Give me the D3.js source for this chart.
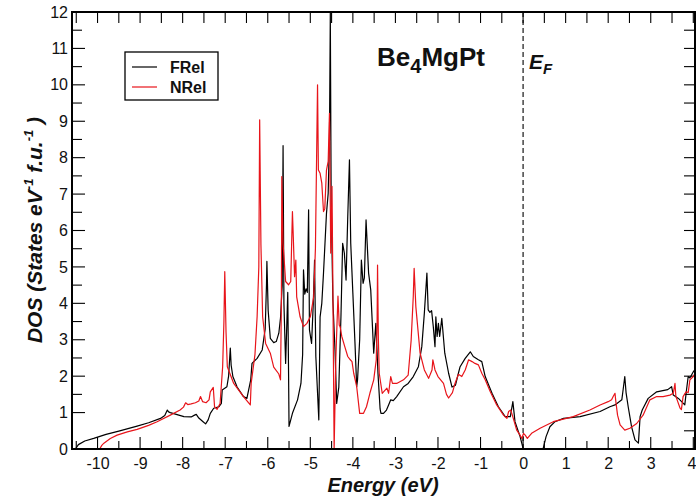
<!DOCTYPE html>
<html>
<head>
<meta charset="utf-8">
<script src="https://cdn.jsdelivr.net/npm/d3@7"></script>
<style>
  html, body { margin: 0; padding: 0; background: #fff; }
  svg { display: block; font-family: "Liberation Sans", Arial, sans-serif; }
</style>
</head>
<body>
<svg id="chart" width="696" height="500"></svg>
<script>
// Total density of states of Be4MgPt: fully relativistic (FRel) vs non-relativistic (NRel)
const frelE = [-10.52,-10.45,-10.3,-10.09,-9.8,-9.5,-9.07,-8.8,-8.52,-8.42,-8.36,-8.33,-8.29,-8.15,-7.97,-7.8,-7.72,-7.68,-7.62,-7.52,-7.46,-7.4,-7.35,-7.27,-7.15,-7.09,-7.07,-6.96,-6.92,-6.88,-6.86,-6.82,-6.72,-6.57,-6.49,-6.4,-6.37,-6.25,-6.13,-6.06,-6.03,-6.02,-5.99,-5.94,-5.86,-5.8,-5.74,-5.7,-5.66,-5.64,-5.62,-5.58,-5.55,-5.53,-5.51,-5.5,-5.42,-5.3,-5.22,-5.18,-5.16,-5.13,-5.1,-5.07,-5.04,-5.02,-4.97,-4.93,-4.9,-4.87,-4.8,-4.77,-4.73,-4.69,-4.62,-4.58,-4.55,-4.53,-4.51,-4.47,-4.42,-4.38,-4.33,-4.28,-4.24,-4.2,-4.16,-4.12,-4.08,-4.05,-4.0,-3.95,-3.91,-3.89,-3.84,-3.8,-3.76,-3.73,-3.69,-3.63,-3.58,-3.51,-3.46,-3.41,-3.36,-3.34,-3.28,-3.21,-3.16,-3.11,-3.05,-2.97,-2.81,-2.7,-2.58,-2.46,-2.38,-2.32,-2.26,-2.23,-2.19,-2.15,-2.11,-2.07,-2.05,-2.02,-1.99,-1.96,-1.91,-1.84,-1.75,-1.67,-1.59,-1.52,-1.48,-1.36,-1.24,-1.17,-1.05,-0.97,-0.89,-0.73,-0.58,-0.42,-0.3,-0.24,-0.19,-0.07,0.0,0.05,0.47,0.5,0.54,0.63,0.75,0.95,1.34,1.81,2.04,2.16,2.32,2.35,2.39,2.42,2.47,2.55,2.63,2.71,2.75,2.8,2.94,3.14,3.4,3.49,3.53,3.65,3.8,3.84,3.88,3.92,4.0,4.05];
const frelDos = [0,0.12,0.22,0.29,0.4,0.49,0.63,0.72,0.84,0.92,1.07,1.02,1.0,0.95,0.89,0.88,0.93,0.95,0.85,0.75,0.69,0.8,0.98,1.12,1.16,1.25,1.62,1.71,2.0,2.77,2.3,1.99,1.7,1.44,1.39,1.9,2.35,2.49,2.72,3.3,4.5,5.15,3.8,3.04,2.92,2.95,3.18,3.6,4.5,8.33,4.0,2.35,3.5,4.3,2.0,0.62,0.98,1.35,1.8,2.6,4.92,4.25,4.4,4.3,6.57,3.27,2.9,4.0,5.19,2.54,0.8,3.63,4.0,4.83,6.47,7.02,8.5,11.97,6.84,4.09,2.72,1.25,1.7,3.63,5.65,5.38,4.64,6.38,7.94,5.65,4.28,2.9,1.71,1.9,3.0,5.19,4.55,4.7,6.29,4.83,4.37,2.63,3.45,2.08,1.1,0.98,0.98,1.07,1.21,1.35,1.33,1.44,1.71,1.8,1.99,2.26,2.81,3.73,4.83,3.82,3.75,3.8,3.36,2.81,3.63,3.09,3.45,3.09,3.59,2.63,2.08,1.7,1.75,2.08,2.26,2.49,2.67,2.54,2.45,2.4,1.99,1.53,1.16,0.89,0.89,1.3,0.75,0.34,0.02,0,0,0.15,0.34,0.61,0.75,0.84,0.89,1.03,1.16,1.21,1.35,1.62,1.99,1.55,1.16,0.61,0.25,0.16,0.89,1.07,1.39,1.57,1.63,1.71,1.48,1.39,1.21,1.62,1.99,1.95,2.12,2.2];

const nrelE = [-9.95,-9.9,-9.85,-9.7,-9.54,-9.3,-9.07,-8.8,-8.6,-8.29,-8.06,-7.98,-7.93,-7.88,-7.8,-7.7,-7.62,-7.58,-7.53,-7.45,-7.38,-7.35,-7.28,-7.25,-7.19,-7.12,-7.06,-7.03,-7.01,-6.98,-6.95,-6.8,-6.57,-6.41,-6.39,-6.3,-6.25,-6.21,-6.19,-6.16,-6.12,-6.05,-5.94,-5.86,-5.74,-5.7,-5.68,-5.67,-5.64,-5.58,-5.51,-5.46,-5.42,-5.4,-5.37,-5.34,-5.32,-5.24,-5.16,-5.08,-5.0,-4.92,-4.88,-4.83,-4.81,-4.77,-4.73,-4.69,-4.66,-4.62,-4.58,-4.55,-4.52,-4.49,-4.47,-4.44,-4.4,-4.35,-4.32,-4.3,-4.26,-4.19,-4.12,-4.06,-4.02,-3.98,-3.91,-3.84,-3.75,-3.68,-3.6,-3.51,-3.45,-3.43,-3.42,-3.4,-3.38,-3.31,-3.2,-3.16,-3.11,-3.07,-2.97,-2.81,-2.7,-2.63,-2.58,-2.56,-2.52,-2.42,-2.32,-2.22,-2.14,-2.12,-2.07,-2.0,-1.87,-1.8,-1.75,-1.66,-1.6,-1.52,-1.44,-1.36,-1.28,-1.2,-1.13,-1.05,-0.97,-0.89,-0.77,-0.62,-0.46,-0.38,-0.34,-0.29,-0.23,-0.15,-0.07,-0.03,0.01,0.05,0.1,0.2,0.4,0.71,1.18,1.57,1.81,2.0,2.08,2.12,2.16,2.18,2.22,2.28,2.39,2.51,2.67,2.82,2.98,3.14,3.29,3.45,3.53,3.57,3.59,3.62,3.69,3.72,3.76,3.83,3.88,3.92,4.0,4.05];
const nrelDos = [0,0.1,0.16,0.29,0.38,0.47,0.54,0.65,0.75,0.93,1.07,1.15,1.27,1.22,1.24,1.27,1.32,1.44,1.3,1.27,1.35,1.57,1.69,1.16,1.09,1.25,2.26,3.5,4.87,3.2,2.26,1.8,1.44,1.21,1.8,2.6,3.63,5.0,9.04,5.6,3.63,2.9,2.63,2.25,2.06,1.9,4.0,7.48,5.65,4.6,4.51,4.6,6.52,5.83,4.73,5.19,4.18,3.63,3.36,3.45,3.63,4.18,5.5,10.0,7.66,7.57,7.3,6.52,6.6,7.66,7.9,9.22,5.38,7.21,4.5,0,2.5,4.2,3.4,3.36,3.09,2.81,2.54,2.45,2.4,2.08,1.71,0.98,0.98,1.16,1.53,1.9,2.45,3.5,5.05,3.0,2.08,1.53,1.67,1.53,1.99,1.8,1.8,1.9,2.03,2.99,4.2,4.96,3.91,2.63,2.17,1.94,2.17,2.45,2.17,1.99,1.8,1.5,1.4,1.55,1.8,2.05,1.99,2.17,2.45,2.4,2.35,2.31,2.08,1.9,1.57,1.21,0.93,0.84,1.03,1.07,0.84,0.52,0.38,0.29,0.43,0.38,0.29,0.43,0.57,0.75,0.89,1.07,1.21,1.3,1.35,1.45,1.53,1.3,0.93,0.66,0.52,0.57,0.7,0.93,1.35,1.44,1.44,1.48,1.53,1.8,1.45,1.35,1.12,1.08,1.44,1.57,1.55,1.9,1.99,2.1];

const xTicks = [-10,-9,-8,-7,-6,-5,-4,-3,-2,-1,0,1,2,3,4];
const yTicks = [0,1,2,3,4,5,6,7,8,9,10,11,12];
const seriesNames = ["FRel", "NRel"];
const seriesColors = ["#000000", "#e8141a"];

const svg = d3.select("#chart");
const mLeft = 72, mRight = 695, mTop = 12, mBottom = 449;

const x = d3.scaleLinear().domain([-10.6, 4.04]).range([mLeft, mRight]);
const y = d3.scaleLinear().domain([0, 12]).range([mBottom, mTop]);

svg.append("defs").append("clipPath").attr("id", "plotclip")
  .append("rect").attr("x", mLeft).attr("y", mTop - 1).attr("width", mRight - mLeft).attr("height", mBottom - mTop + 1);

// ticks at every half unit, pointing inward on all four sides
const xHalf = d3.range(-10.5, 4.01, 0.5);
const fmt = d => String(d);

// bottom axis labels
const gx = svg.append("g").attr("transform", `translate(0,${mBottom})`)
  .call(d3.axisBottom(x).tickValues(xTicks).tickFormat(fmt).tickSize(0).tickPadding(9));
gx.select(".domain").remove();
gx.selectAll("text").attr("font-size", 16).attr("fill", "#111").attr("font-family", "Liberation Sans, Arial, sans-serif");
// the last label sits against the right edge of the page
gx.selectAll(".tick").filter(d => d === 4).select("text").attr("text-anchor", "end").attr("x", 696 - x(4));

svg.append("g").selectAll("line").data(xHalf).join("line")
  .attr("x1", d => x(d)).attr("x2", d => x(d))
  .attr("y1", mBottom).attr("y2", d => mBottom - (Number.isInteger(d) ? 12 : 8))
  .attr("stroke", "#000").attr("stroke-width", 1.1);
svg.append("g").selectAll("line").data(xHalf).join("line")
  .attr("x1", d => x(d)).attr("x2", d => x(d))
  .attr("y1", mTop).attr("y2", mTop + 11)
  .attr("stroke", "#000").attr("stroke-width", 1.1);

// left axis labels
const gy = svg.append("g").attr("transform", `translate(${mLeft},0)`)
  .call(d3.axisLeft(y).tickValues(yTicks).tickFormat(fmt).tickSize(0).tickPadding(4));
gy.select(".domain").remove();
gy.selectAll("text").attr("font-size", 16).attr("fill", "#111").attr("font-family", "Liberation Sans, Arial, sans-serif");

svg.append("g").selectAll("line").data(d3.range(1, 12, 0.5)).join("line")
  .attr("y1", d => y(d)).attr("y2", d => y(d))
  .attr("x1", mLeft).attr("x2", d => mLeft + (Number.isInteger(d) ? 13 : 10))
  .attr("stroke", "#000").attr("stroke-width", 1.1);
svg.append("g").selectAll("line").data(d3.range(0.5, 12, 0.5)).join("line")
  .attr("y1", d => y(d)).attr("y2", d => y(d))
  .attr("x1", mRight).attr("x2", mRight - 11)
  .attr("stroke", "#000").attr("stroke-width", 1.1);

// Fermi level
svg.append("line")
  .attr("x1", x(0)).attr("x2", x(0)).attr("y1", mTop).attr("y2", mBottom)
  .attr("stroke", "#000").attr("stroke-width", 1.1).attr("stroke-dasharray", "5,3");

// DOS curves
const line = d3.line().x(d => x(d[0])).y(d => y(d[1]));
const frel = frelE.map((e, i) => [e, frelDos[i]]);
const nrel = nrelE.map((e, i) => [e, nrelDos[i]]);
const plot = svg.append("g").attr("clip-path", "url(#plotclip)");
plot.append("path").datum(frel).attr("d", line)
  .attr("fill", "none").attr("stroke", seriesColors[0]).attr("stroke-width", 1.2).attr("stroke-linejoin", "round");
plot.append("path").datum(nrel).attr("d", line)
  .attr("fill", "none").attr("stroke", seriesColors[1]).attr("stroke-width", 1.2).attr("stroke-linejoin", "round");

// frame
svg.append("rect").attr("x", mLeft).attr("y", mTop).attr("width", mRight - mLeft).attr("height", mBottom - mTop)
  .attr("fill", "none").attr("stroke", "#000").attr("stroke-width", 2);

// legend
const lg = svg.append("g");
lg.append("rect").attr("x", 125).attr("y", 52).attr("width", 93).attr("height", 48)
  .attr("fill", "#fff").attr("stroke", "#000").attr("stroke-width", 1.3);
seriesNames.forEach((name, i) => {
  const yy = 67 + i * 20;
  lg.append("line").attr("x1", 132).attr("x2", 157).attr("y1", yy).attr("y2", yy)
    .attr("stroke", seriesColors[i]).attr("stroke-width", 1.2);
  lg.append("text").attr("x", 170).attr("y", yy + 6).attr("font-size", 16).attr("font-weight", "bold")
    .attr("fill", "#111").text(name);
});

// compound label
const title = svg.append("text").attr("x", 377).attr("y", 66).attr("font-size", 26).attr("font-weight", "bold").attr("fill", "#111");
title.append("tspan").text("Be");
title.append("tspan").attr("font-size", 20).attr("dy", 7).text("4");
title.append("tspan").attr("dy", -7).text("MgPt");

// Fermi level label
const ef = svg.append("text").attr("x", 529).attr("y", 69).attr("font-size", 21).attr("font-weight", "bold")
  .attr("font-style", "italic").attr("fill", "#111");
ef.append("tspan").text("E");
ef.append("tspan").attr("font-size", 15).attr("dy", 5).text("F");

// axis titles
svg.append("text").attr("x", 383).attr("y", 492).attr("text-anchor", "middle")
  .attr("font-size", 20).attr("font-weight", "bold").attr("font-style", "italic").attr("fill", "#111")
  .text("Energy (eV)");

const yt = svg.append("text").attr("transform", "translate(42,230) rotate(-90)").attr("text-anchor", "middle")
  .attr("font-size", 21).attr("font-weight", "bold").attr("font-style", "italic").attr("fill", "#111");
yt.append("tspan").text("DOS  (States eV");
yt.append("tspan").attr("font-size", 13).attr("dy", -9).text("-1");
yt.append("tspan").attr("dy", 9).text("  f.u.");
yt.append("tspan").attr("font-size", 13).attr("dy", -9).text("-1");
yt.append("tspan").attr("dy", 9).text(" )");
</script>
</body>
</html>
